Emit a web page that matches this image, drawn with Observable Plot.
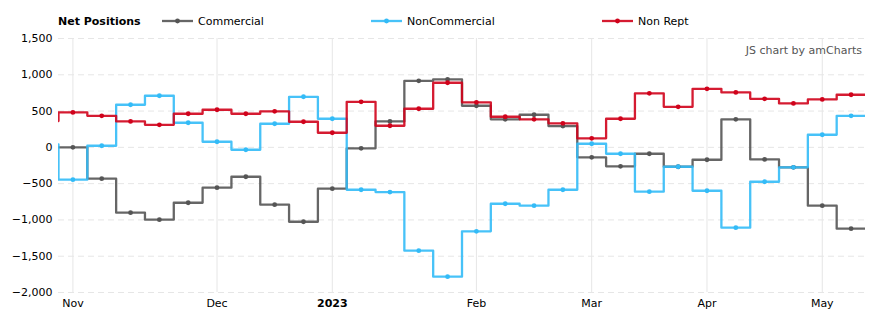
<!DOCTYPE html>
<html><head><meta charset="utf-8">
<script src="https://cdn.jsdelivr.net/npm/d3@7"></script>
<script src="https://cdn.jsdelivr.net/npm/@observablehq/plot@0.6"></script>
<style>
body{margin:0;background:#fff;font-family:"DejaVu Sans",Verdana,sans-serif;}
#wrap{position:relative;width:882px;height:326px;overflow:hidden;}
#legend{position:absolute;left:0;top:0;width:882px;height:30px;font-size:11px;color:#000;}
#legend .it{position:absolute;top:15px;line-height:14px;white-space:nowrap;}
#legend svg{position:absolute;top:16px;}
#chart{position:absolute;top:30px;left:0;}
#credit{position:absolute;top:44px;right:20px;font-size:11px;color:#555;line-height:14px;}
</style></head><body>
<div id="wrap"><div id="legend"></div><div id="chart"></div><div id="credit">JS chart by amCharts</div></div>
<script>
// weekly report dates (first one is the week before the visible window)
const dates = ["2022-10-25","2022-11-01","2022-11-08","2022-11-15","2022-11-22","2022-11-29",
  "2022-12-06","2022-12-13","2022-12-20","2022-12-27","2023-01-03","2023-01-10","2023-01-17",
  "2023-01-24","2023-01-31","2023-02-07","2023-02-14","2023-02-21","2023-02-28","2023-03-07",
  "2023-03-14","2023-03-21","2023-03-28","2023-04-04","2023-04-11","2023-04-18","2023-04-25",
  "2023-05-02","2023-05-09"];
const commercial = [0, 0, -432, -900, -997, -763, -556, -405, -790, -1025, -570, -14, 358, 917, 937,
  573, 386, 449, 293, -138, -262, -88, -267, -171, 386, -166, -275, -804, -1121];
const nonCommercial = [41, -446, 22, 587, 711, 339, 77, -33, 325, 697, 394, -584, -616, -1424, -1782,
  -1157, -777, -804, -584, 50, -88, -611, -267, -598, -1107, -474, -275, 174, 435];
const nonRept = [362, 482, 435, 358, 311, 463, 518, 463, 496, 353, 201, 628, 298, 532, 890,
  620, 422, 386, 331, 124, 394, 744, 559, 807, 757, 669, 606, 661, 725];
const seriesNames = ["Commercial", "NonCommercial", "Non Rept"];
const seriesColors = ["#555555", "#33bbf7", "#d0021b"];
const yTicks = [-2000, -1500, -1000, -500, 0, 500, 1000, 1500];
const monthTickLabels = ["Nov", "Dec", "2023", "Feb", "Mar", "Apr", "May"];
const boldTickLabels = ["2023"];
const legendTitle = "Net Positions";

const FONT = '"DejaVu Sans", Verdana, sans-serif';
const seriesValues = [commercial, nonCommercial, nonRept];
const n = dates.length - 1; // visible points

// point table (index -1 is the prior week, clipped off)
const points = [];
seriesNames.forEach((s, k) => {
  seriesValues[k].forEach((v, j) => points.push({series: s, i: j - 1, value: v}));
});
// step path: each value spans half a week each side of its point
const stepPts = [];
points.forEach(p => {
  stepPts.push({series: p.series, x: p.i - 0.5, value: p.value});
  stepPts.push({series: p.series, x: p.i + 0.5, value: p.value});
});
// month ticks: first visible week of each month
const monthTicks = [];
for (let j = 1; j < dates.length; j++) {
  const m = dates[j].slice(0, 7), pm = dates[j - 1].slice(0, 7);
  if (j === 1 || m !== pm) monthTicks.push({i: j - 1});
}
monthTicks.forEach((t, k) => t.label = monthTickLabels[k]);

const chart = Plot.plot({
  width: 882, height: 296,
  marginLeft: 58, marginRight: 17, marginTop: 8, marginBottom: 34,
  style: {fontFamily: FONT, fontSize: "11px", color: "#000", background: "#fff"},
  x: {domain: [-0.5, n - 0.5], axis: null},
  y: {domain: [-2000, 1500], label: null, axis: null},
  color: {domain: seriesNames, range: seriesColors},
  marks: [
    Plot.gridY(yTicks, {stroke: "#e6e6e6", strokeOpacity: 1, strokeDasharray: "6,4"}),
    Plot.ruleX(monthTicks, {x: "i", stroke: "#e6e6e6", strokeOpacity: 1}),
    Plot.axisY(yTicks, {tickSize: 0, tickPadding: 6, tickFormat: d3.format(","), fill: "#000", label: null, fontSize: 11}),
    Plot.line(stepPts, {x: "x", y: "value", z: "series", stroke: "series", strokeWidth: 2.3, strokeOpacity: 0.9, clip: true, curve: "linear"}),
    Plot.dot(points, {x: "i", y: "value", fill: "series", r: 2.4, clip: true}),
    Plot.text(monthTicks.filter(t => !boldTickLabels.includes(t.label)), {x: "i", text: "label", frameAnchor: "bottom", dy: 14, fill: "#000", fontSize: 11}),
    Plot.text(monthTicks.filter(t => boldTickLabels.includes(t.label)), {x: "i", text: "label", frameAnchor: "bottom", dy: 14, fill: "#000", fontSize: 11, fontWeight: "bold"})
  ]
});
document.getElementById("chart").appendChild(chart);

// legend
const legend = document.getElementById("legend");
const title = document.createElement("div");
title.className = "it"; title.style.left = "58px"; title.style.fontWeight = "bold";
title.textContent = legendTitle;
legend.appendChild(title);
const legendX = [162, 371, 602];
seriesNames.forEach((s, k) => {
  const sw = d3.create("svg").attr("width", 32).attr("height", 10)
    .style("left", legendX[k] + "px");
  sw.append("line").attr("x1", 0).attr("x2", 31).attr("y1", 5).attr("y2", 5)
    .attr("stroke", seriesColors[k]).attr("stroke-width", 2.3).attr("stroke-opacity", 0.9);
  sw.append("circle").attr("cx", 15.5).attr("cy", 5).attr("r", 2.4).attr("fill", seriesColors[k]);
  legend.appendChild(sw.node());
  const t = document.createElement("div");
  t.className = "it"; t.style.left = (legendX[k] + 36) + "px";
  t.textContent = s;
  legend.appendChild(t);
});
</script>
</body></html>
